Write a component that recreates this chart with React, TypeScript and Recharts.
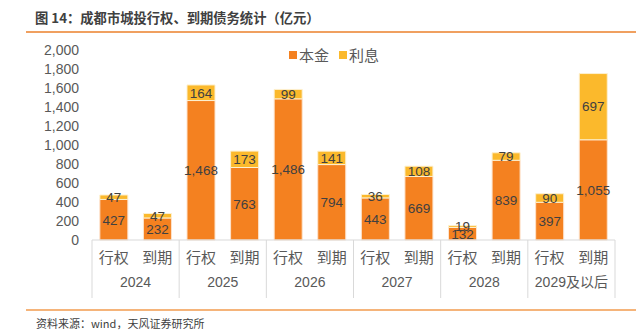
import React from 'react';
import { BarChart, Bar, XAxis, YAxis, LabelList } from 'recharts';

const years = ['2024', '2025', '2026', '2027', '2028', '2029及以后'];
const kinds = ['行权', '到期'];
const principal = [427, 232, 1468, 763, 1486, 794, 443, 669, 132, 839, 397, 1055];
const interest = [47, 47, 164, 173, 99, 141, 36, 108, 19, 79, 90, 697];
const yTicks = [0, 200, 400, 600, 800, 1000, 1200, 1400, 1600, 1800, 2000];
const seriesNames = ['本金', '利息'];
const seriesColors = ['#f48120', '#fbb92c'];

const rows = principal.map((p, i) => ({
  id: `c${i}`,
  kind: kinds[i % 2],
  year: years[Math.floor(i / 2)],
  本金: p,
  利息: interest[i],
}));

const W = 636;
const H = 330;
const PLOT_LEFT = 92;
const PLOT_RIGHT = 21;
const BAND = (W - PLOT_LEFT - PLOT_RIGHT) / rows.length;
const FONT = '"Liberation Sans", "Noto Sans CJK SC", sans-serif';
const GRAY = '#595959';
const LINE = '#d9d9d9';

const fmt = (v: any) => Number(v).toLocaleString('en-US');

function CategoryTick(props: any) {
  const { x, y, index } = props;
  const row = rows[index];
  if (!row) return null;
  return (
    <g>
      <text x={x} y={y + 23} textAnchor="middle" fill={GRAY} fontSize={15} fontFamily={FONT}>
        {row.kind}
      </text>
      {index % 2 === 0 && (
        <>
          <line x1={x - BAND / 2} x2={x - BAND / 2} y1={y} y2={y + 58} stroke={LINE} />
          <text x={x + BAND / 2} y={y + 47} textAnchor="middle" fill={GRAY} fontSize={14} fontFamily={FONT}>
            {row.year}
          </text>
        </>
      )}
      {index === rows.length - 1 && (
        <line x1={x + BAND / 2} x2={x + BAND / 2} y1={y} y2={y + 58} stroke={LINE} />
      )}
    </g>
  );
}

export default function App() {
  return (
    <div style={{ position: 'absolute', left: 0, top: 0, width: W, height: H, background: '#fff', fontFamily: FONT }}>
      <div style={{ position: 'absolute', left: 35, top: 8, fontSize: 13.3, fontWeight: 'bold', color: '#404040', fontFamily: '"Noto Sans CJK SC", sans-serif' }}>
        图 14：成都市城投行权、到期债务统计（亿元）
      </div>
      <div style={{ position: 'absolute', left: 26, top: 31, width: W - 26, height: 2, background: '#f0a060' }} />
      {/* legend sits over the plot, so it is drawn outside the chart */}
      <div style={{ position: 'absolute', left: 289, top: 45, display: 'flex', gap: 10, fontSize: 15, color: GRAY, fontFamily: '"Noto Sans CJK SC", sans-serif', lineHeight: '20px' }}>
        {seriesNames.map((n, i) => (
          <span key={n} style={{ display: 'flex', alignItems: 'center' }}>
            <span style={{ width: 8, height: 8, background: seriesColors[i], marginRight: 2 }} />
            {n}
          </span>
        ))}
      </div>
      <BarChart width={W} height={H} data={rows} margin={{ top: 50, right: PLOT_RIGHT, bottom: 30, left: 0 }} barCategoryGap="18%">
        <XAxis
          dataKey="id"
          height={60}
          tickLine={false}
          tickSize={0}
          tickMargin={0}
          axisLine={{ stroke: LINE }}
          interval={0}
          tick={<CategoryTick />}
        />
        <YAxis
          width={PLOT_LEFT}
          domain={[0, 2000]}
          ticks={yTicks}
          interval={0}
          axisLine={false}
          tickLine={false}
          tickSize={0}
          tickMargin={13}
          tickFormatter={fmt}
          tick={{ fill: GRAY, fontSize: 14, fontFamily: FONT }}
        />
        <Bar dataKey="本金" stackId="a" fill={seriesColors[0]} stroke="#fde3cc" strokeWidth={1} isAnimationActive={false}>
          <LabelList dataKey="本金" position="center" formatter={fmt} fill="#404040" fontSize={13.5} fontFamily={FONT} />
        </Bar>
        <Bar dataKey="利息" stackId="a" fill={seriesColors[1]} stroke="#fdf0d0" strokeWidth={1} isAnimationActive={false}>
          <LabelList dataKey="利息" position="center" formatter={fmt} fill="#404040" fontSize={13.5} fontFamily={FONT} />
        </Bar>
      </BarChart>
      <div style={{ position: 'absolute', left: 26, top: 309, width: W - 26, height: 2, background: '#f5b47a' }} />
      <div style={{ position: 'absolute', left: 36, top: 315, fontSize: 11, color: '#404040', fontFamily: '"Noto Sans CJK SC", sans-serif' }}>
        资料来源：wind，天风证券研究所
      </div>
    </div>
  );
}
